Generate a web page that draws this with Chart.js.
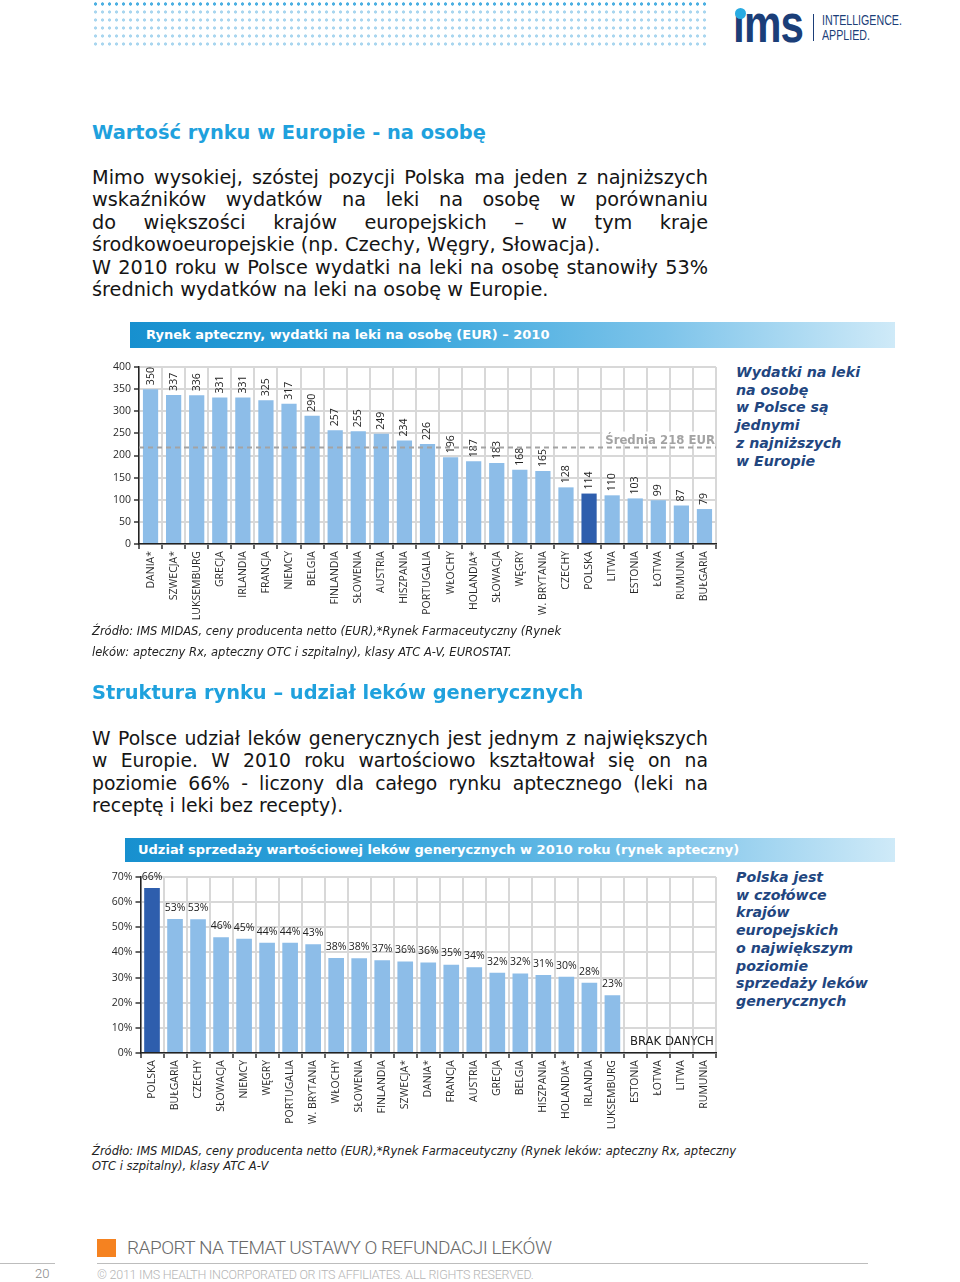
<!DOCTYPE html>
<html><head><meta charset="utf-8">
<script src="https://cdn.jsdelivr.net/npm/chart.js@4.4.1/dist/chart.umd.min.js"></script>
<style>
html,body{margin:0;padding:0;background:#fff;}
body{width:960px;height:1282px;position:relative;overflow:hidden;font-family:'DejaVu Sans',sans-serif;}
.abs{position:absolute;}
.cond{font-family:'DejaVu Sans Condensed','DejaVu Sans',sans-serif;font-stretch:semi-condensed;}
.h{left:92px;color:#1FA1DD;font-weight:bold;font-size:19.4px;line-height:22px;white-space:nowrap;}
.p{left:92px;width:616px;font-size:19.3px;color:#151515;}
.p2{font-size:18.8px;}
.p div{height:22.6px;line-height:22.6px;}
.j{text-align:justify;text-align-last:justify;}
.src{left:92px;font-style:italic;font-size:11.5px;color:#222;white-space:nowrap;}
.bar{color:#fff;font-weight:bold;font-size:13px;white-space:nowrap;
  background:linear-gradient(to right,#1790CF 0%,#35A5DC 35%,#7EC4EA 70%,#CFEAF8 100%);}
.note{left:736px;color:#22467F;font-weight:bold;font-style:italic;font-size:14.2px;line-height:17.7px;white-space:nowrap;}
.dots{left:92px;top:8px;width:616px;height:40px;
  background-image:radial-gradient(circle at 3.5px 4px,#A9D6EF 1.3px,rgba(255,255,255,0) 1.9px);
  background-size:7px 8px;}
.dots1{left:92px;top:0px;width:616px;height:8px;
  background-image:radial-gradient(circle at 3.5px 4px,#4DB0E2 1.4px,rgba(255,255,255,0) 1.9px);
  background-size:7px 8px;}
</style></head>
<body>
<!-- header -->
<div class="abs dots1"></div>
<div class="abs dots"></div>
<div class="abs" style="left:733px;top:-4px;font-family:'Liberation Sans',sans-serif;font-weight:bold;font-size:54px;line-height:54px;color:#1B3E78;transform:scaleX(0.78);transform-origin:left top;letter-spacing:-1px;">ıms</div>
<div class="abs" style="left:735px;top:8px;width:11px;height:11px;border-radius:50%;background:#29ABE2;"></div>
<div class="abs" style="left:813px;top:14px;width:1px;height:27px;background:#1B3E78;"></div>
<div class="abs" style="left:822px;top:13px;font-family:'Liberation Sans',sans-serif;font-size:15px;line-height:14.5px;color:#1B3E78;transform:scaleX(0.71);transform-origin:left top;white-space:nowrap;">INTELLIGENCE.<br>APPLIED.</div>

<div class="abs h" style="top:122px;">Wartość rynku w Europie - na osobę</div>
<div class="abs p" style="top:166.5px;">
<div class="j">Mimo wysokiej, szóstej pozycji Polska ma jeden z najniższych</div>
<div class="j">wskaźników wydatków na leki na osobę w porównaniu</div>
<div class="j">do większości krajów europejskich – w tym kraje</div>
<div>środkowoeuropejskie (np. Czechy, Węgry, Słowacja).</div>
<div class="j">W 2010 roku w Polsce wydatki na leki na osobę stanowiły 53%</div>
<div>średnich wydatków na leki na osobę w Europie.</div>
</div>

<div class="abs bar" style="left:130px;top:322px;width:749px;height:26px;line-height:26px;padding-left:16px;">Rynek apteczny, wydatki na leki na osobę (EUR) – 2010</div>
<canvas id="c1" class="abs" style="left:90px;top:355px;" width="632" height="270"></canvas>
<div class="abs note" style="top:364px;">Wydatki na leki<br>na osobę<br>w Polsce są<br>jednymi<br>z najniższych<br>w Europie</div>

<div class="abs src" style="top:621px;line-height:21px;">Źródło: IMS MIDAS, ceny producenta netto (EUR),*Rynek Farmaceutyczny (Rynek<br>leków: apteczny Rx, apteczny OTC i szpitalny), klasy ATC A-V, EUROSTAT.</div>

<div class="abs h" style="top:682px;">Struktura rynku – udział leków generycznych</div>
<div class="abs p p2" style="top:727.5px;">
<div class="j">W Polsce udział leków generycznych jest jednym z największych</div>
<div class="j">w Europie. W 2010 roku wartościowo kształtował się on na</div>
<div class="j">poziomie 66% - liczony dla całego rynku aptecznego (leki na</div>
<div>receptę i leki bez recepty).</div>
</div>

<div class="abs bar" style="left:125px;top:838px;width:757px;height:24px;line-height:24px;padding-left:13px;">Udział sprzedaży wartościowej leków generycznych w 2010 roku (rynek apteczny)</div>
<canvas id="c2" class="abs" style="left:90px;top:865px;" width="632" height="270"></canvas>
<div class="abs cond" style="left:630px;top:1033px;font-size:13px;line-height:16px;color:#222;white-space:nowrap;">BRAK DANYCH</div>
<div class="abs note" style="top:869px;">Polska jest<br>w czołówce<br>krajów<br>europejskich<br>o największym<br>poziomie<br>sprzedaży leków<br>generycznych</div>

<div class="abs src" style="top:1144px;line-height:14.5px;">Źródło: IMS MIDAS, ceny producenta netto (EUR),*Rynek Farmaceutyczny (Rynek leków: apteczny Rx, apteczny<br>OTC i szpitalny), klasy ATC A-V</div>

<!-- footer -->
<div class="abs" style="left:97px;top:1239px;width:19px;height:18px;background:#F58220;"></div>
<div class="abs" style="left:127px;top:1237px;font-family:Roboto,sans-serif;font-weight:300;font-size:19px;line-height:22px;color:#6a6a6a;letter-spacing:-0.5px;white-space:nowrap;">RAPORT NA TEMAT USTAWY O REFUNDACJI LEKÓW</div>
<div class="abs" style="left:0px;top:1263px;width:55px;height:1px;background:#bdbdbd;"></div>
<div class="abs" style="left:97px;top:1263px;width:771px;height:1px;background:#bdbdbd;"></div>
<div class="abs" style="left:35px;top:1266px;font-family:Roboto,sans-serif;font-weight:300;font-size:13px;line-height:15px;color:#888;">20</div>
<div class="abs" style="left:97px;top:1267px;font-family:Roboto,sans-serif;font-weight:300;font-size:12.5px;line-height:15px;color:#b5b5b5;letter-spacing:-0.25px;white-space:nowrap;">© 2011 IMS HEALTH INCORPORATED OR ITS AFFILIATES. ALL RIGHTS RESERVED.</div>

<script>
// ---------- DATA ----------
const categories1 = ['DANIA*','SZWECJA*','LUKSEMBURG','GRECJA','IRLANDIA','FRANCJA','NIEMCY','BELGIA','FINLANDIA','SŁOWENIA','AUSTRIA','HISZPANIA','PORTUGALIA','WŁOCHY','HOLANDIA*','SŁOWACJA','WĘGRY','W. BRYTANIA','CZECHY','POLSKA','LITWA','ESTONIA','ŁOTWA','RUMUNIA','BUŁGARIA'];
const values1 = [350,337,336,331,331,325,317,290,257,255,249,234,226,196,187,183,168,165,128,114,110,103,99,87,79];
const average1 = 218;
const averageLabel1 = 'Średnia 218 EUR';
const yTicks1 = [0,50,100,150,200,250,300,350,400];

const categories2 = ['POLSKA','BUŁGARIA','CZECHY','SŁOWACJA','NIEMCY','WĘGRY','PORTUGALIA','W. BRYTANIA','WŁOCHY','SŁOWENIA','FINLANDIA','SZWECJA*','DANIA*','FRANCJA','AUSTRIA','GRECJA','BELGIA','HISZPANIA','HOLANDIA*','IRLANDIA','LUKSEMBURG','ESTONIA','ŁOTWA','LITWA','RUMUNIA'];
const values2 = [65.6,53.3,53.2,46.0,45.4,43.8,43.8,43.3,37.8,37.7,36.9,36.4,36.0,35.1,34.1,31.9,31.6,31.0,30.3,27.9,23.0,null,null,null,null];
const yTicks2 = [0,10,20,30,40,50,60,70];

const highlightCategory = 'POLSKA';
// --------------------------

const BAR = '#8DBDE8', BAR_HI = '#2E5EAD';
Chart.defaults.font.family = "'Open Sans', sans-serif";
Chart.defaults.color = '#2a2a2a';

const valueLabels = {
  id: 'valueLabels',
  afterDatasetsDraw(chart, args, opts) {
    const ctx = chart.ctx;
    const meta = chart.getDatasetMeta(0);
    const data = chart.data.datasets[0].data;
    ctx.save();
    ctx.fillStyle = '#222';
    ctx.font = "10.5px 'Open Sans', sans-serif";
    meta.data.forEach((bar, i) => {
      const v = data[i];
      if (v == null) return;
      const txt = opts.format(v);
      if (opts.rotate) {
        ctx.save();
        ctx.translate(bar.x, bar.y - opts.offset);
        ctx.rotate(-Math.PI / 2);
        ctx.textAlign = 'left';
        ctx.textBaseline = 'middle';
        ctx.fillText(txt, 0, 0);
        ctx.restore();
      } else {
        ctx.textAlign = 'center';
        ctx.textBaseline = 'bottom';
        ctx.fillText(txt, bar.x, bar.y - opts.offset);
      }
    });
    ctx.restore();
  }
};

const avgLine = {
  id: 'avgLine',
  afterDatasetsDraw(chart, args, opts) {
    if (opts.value == null) return;
    const ctx = chart.ctx;
    const y = chart.scales.y.getPixelForValue(opts.value);
    const { left, right } = chart.chartArea;
    ctx.save();
    ctx.strokeStyle = '#a3a3a3';
    ctx.lineWidth = 2;
    ctx.setLineDash([5, 4]);
    ctx.beginPath(); ctx.moveTo(left, y); ctx.lineTo(right, y); ctx.stroke();
    ctx.setLineDash([]);
    ctx.font = "bold 13px 'DejaVu Sans Condensed', 'DejaVu Sans', sans-serif";
    const w = ctx.measureText(opts.label).width;
    ctx.fillStyle = '#fff';
    ctx.fillRect(right - w - 4, y - 16, w + 3, 13);
    ctx.fillStyle = '#a3a3a3';
    ctx.textAlign = 'right';
    ctx.textBaseline = 'alphabetic';
    ctx.fillText(opts.label, right - 1, y - 4);
    ctx.restore();
  }
};

function makeChart(id, cats, vals, ticks, tickFmt, labelOpts, avg, yWidth, xHeight, barPct) {
  const colors = cats.map(c => c === highlightCategory ? BAR_HI : BAR);
  return new Chart(document.getElementById(id), {
    type: 'bar',
    data: { labels: cats, datasets: [{ data: vals, backgroundColor: colors, borderWidth: 0,
      barPercentage: barPct, categoryPercentage: 1 }] },
    options: {
      responsive: false, animation: false,
      layout: { padding: { top: 12, right: 6, left: 0, bottom: 0 } },
      plugins: { legend: { display: false }, tooltip: { enabled: false },
        valueLabels: labelOpts, avgLine: avg },
      scales: {
        x: {
          grid: { color: '#d8d8d8', lineWidth: 2, tickColor: '#333', tickLength: 5, tickWidth: 1.5, offset: true },
          border: { color: '#222', width: 1.5 },
          ticks: { autoSkip: false, minRotation: 90, maxRotation: 90, padding: 2,
            font: { size: 10.5 }, color: '#2a2a2a' },
          afterFit(s) { s.height = xHeight; }
        },
        y: {
          min: ticks[0], max: ticks[ticks.length - 1],
          afterBuildTicks(s) { s.ticks = ticks.map(v => ({ value: v })); },
          grid: { color: '#d8d8d8', lineWidth: 2, tickColor: '#333', tickLength: 5, tickWidth: 1.5 },
          border: { color: '#222', width: 1.5 },
          ticks: { padding: 3, font: { size: 10.5 }, color: '#2a2a2a', callback: tickFmt },
          afterFit(s) { s.width = yWidth; }
        }
      }
    },
    plugins: [valueLabels, avgLine]
  });
}

makeChart('c1', categories1, values1, yTicks1, v => String(v),
  { rotate: true, offset: 4, format: v => String(v) },
  { value: average1, label: averageLabel1 }, 49, 81, 0.66);

makeChart('c2', categories2, values2, yTicks2, v => v + '%',
  { rotate: false, offset: 6, format: v => Math.round(v) + '%' },
  { value: null }, 50.5, 82, 0.68);
</script>
</body></html>
